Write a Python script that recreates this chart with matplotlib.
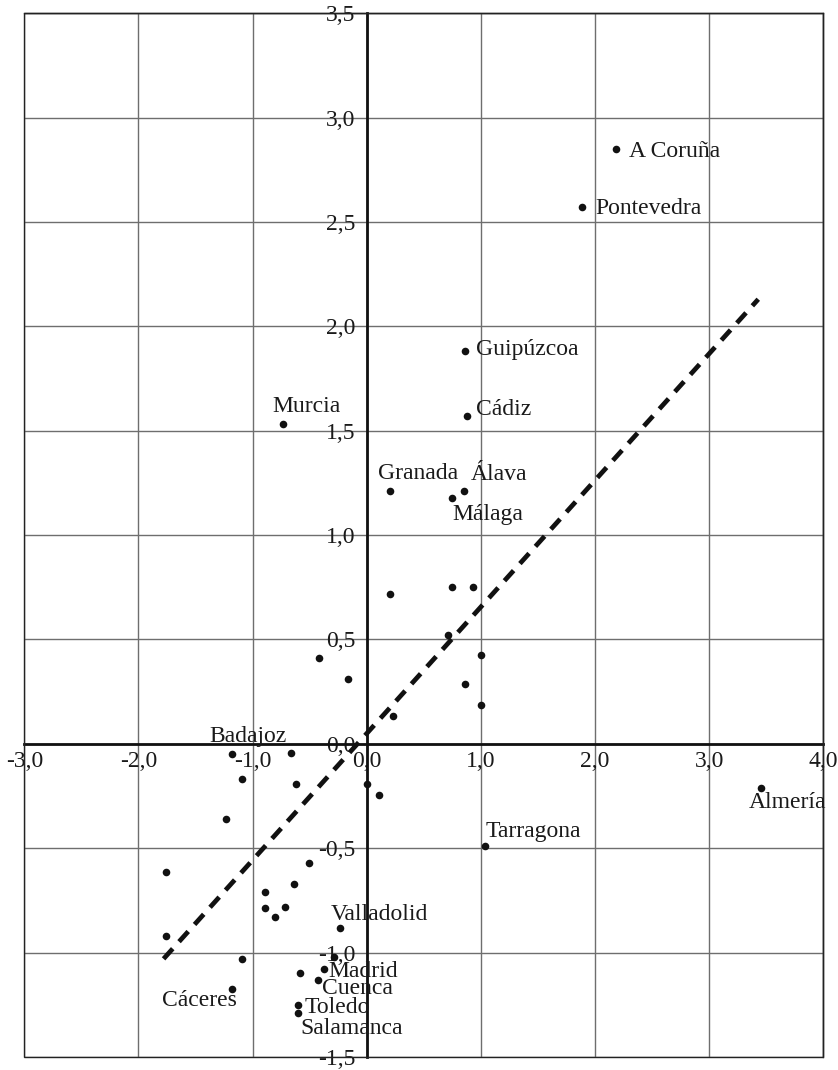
import matplotlib.pyplot as plt
from matplotlib.patches import Rectangle
from matplotlib.ticker import FuncFormatter, MultipleLocator

plt.rcParams['font.family'] = ['Liberation Serif', 'DejaVu Serif']

# labelled provinces
names = ['A Coruña', 'Pontevedra', 'Guipúzcoa', 'Cádiz', 'Murcia', 'Granada',
         'Álava', 'Málaga', 'Badajoz', 'Almería', 'Tarragona', 'Valladolid',
         'Madrid', 'Cuenca', 'Toledo', 'Salamanca', 'Cáceres']
lab_x = [2.18, 1.89, 0.86, 0.88, -0.73, 0.20, 0.855, 0.75, -1.18, 3.45, 1.04,
         -0.235, -0.375, -0.43, -0.605, -0.605, -1.18]
lab_y = [2.85, 2.57, 1.88, 1.57, 1.53, 1.21, 1.21, 1.18, -0.05, -0.21, -0.49,
         -0.88, -1.08, -1.13, -1.25, -1.29, -1.175]

# unlabelled provinces
other_x = [0.20, 0.75, 0.93, 0.71, -0.415, -0.16, 1.00, 0.86, 1.00, 0.23,
           -1.095, -0.66, -0.62, 0.0, 0.11, -1.23, -1.76, -0.51, -0.64, -0.89,
           -0.89, -0.72, -0.80, -1.76, -1.09, -0.29, -0.585]
other_y = [0.72, 0.75, 0.75, 0.52, 0.41, 0.31, 0.425, 0.285, 0.186, 0.135,
           -0.17, -0.045, -0.19, -0.19, -0.245, -0.36, -0.615, -0.57, -0.67, -0.71,
           -0.785, -0.78, -0.83, -0.92, -1.03, -1.02, -1.10]

# fitted line ends
line_x = [-1.78, 3.43]
line_y = [-1.03, 2.13]

# label offsets in pixels (dx, dy of baseline), and alignment
offsets = {
    'A Coruña': (13, -8, 'left'), 'Pontevedra': (13, -7, 'left'),
    'Guipúzcoa': (11, -4, 'left'), 'Cádiz': (9, 1, 'left'),
    'Murcia': (-11, 12, 'left'), 'Granada': (-12, 12, 'left'),
    'Álava': (6, 11, 'left'), 'Málaga': (0, -22, 'left'),
    'Badajoz': (-23, 12, 'left'), 'Almería': (-12, -20, 'left'),
    'Tarragona': (0, 9, 'left'), 'Valladolid': (-9, 8, 'left'),
    'Madrid': (4, -8, 'left'), 'Cuenca': (4, -14, 'left'),
    'Toledo': (7, -8, 'left'), 'Salamanca': (3, -21, 'left'),
    'Cáceres': (5, -17, 'right'),
}

fig = plt.figure(figsize=(8.38, 10.70), dpi=100)
ax = fig.add_axes([0.029, 0.0122, 0.9535, 0.9754])
ax.set_xlim(-3.0, 4.0)
ax.set_ylim(-1.5, 3.5)

ax.xaxis.set_major_locator(MultipleLocator(1.0))
ax.yaxis.set_major_locator(MultipleLocator(0.5))
fmt = FuncFormatter(lambda v, p: f'{v:.1f}'.replace('.', ','))
ax.xaxis.set_major_formatter(fmt)
ax.yaxis.set_major_formatter(fmt)
ax.tick_params(axis='both', length=0, labelsize=17, colors='#1a1a1a')
ax.tick_params(axis='x', pad=5)
ax.tick_params(axis='y', pad=8)
ax.grid(True, color='#6e6e6e', lw=1.0)
ax.set_axisbelow(True)

for s in ['left', 'bottom']:
    ax.spines[s].set_position(('data', 0))
    ax.spines[s].set_linewidth(2.0)
    ax.spines[s].set_color('#111111')
    ax.spines[s].set_zorder(2)
for s in ['top', 'right']:
    ax.spines[s].set_linewidth(1.0)
    ax.spines[s].set_color('#222222')
ax.add_patch(Rectangle((0, 0), 1, 1, transform=ax.transAxes, fill=False,
                       lw=1.0, ec='#222222', clip_on=False, zorder=3))

ax.plot(line_x, line_y, color='#111111', lw=3.4, linestyle=(0, (2.9, 2.0)),
        zorder=4)

ax.scatter(other_x + lab_x, other_y + lab_y, s=30, color='#111111', zorder=5,
           linewidths=0)

for n, x, y in zip(names, lab_x, lab_y):
    dx, dy, ha = offsets[n]
    ax.annotate(n, (x, y), xytext=(dx, dy), textcoords='offset pixels',
                ha=ha, va='baseline', fontsize=17, color='#1a1a1a', zorder=6)

fig.savefig('out.png', dpi=100)
